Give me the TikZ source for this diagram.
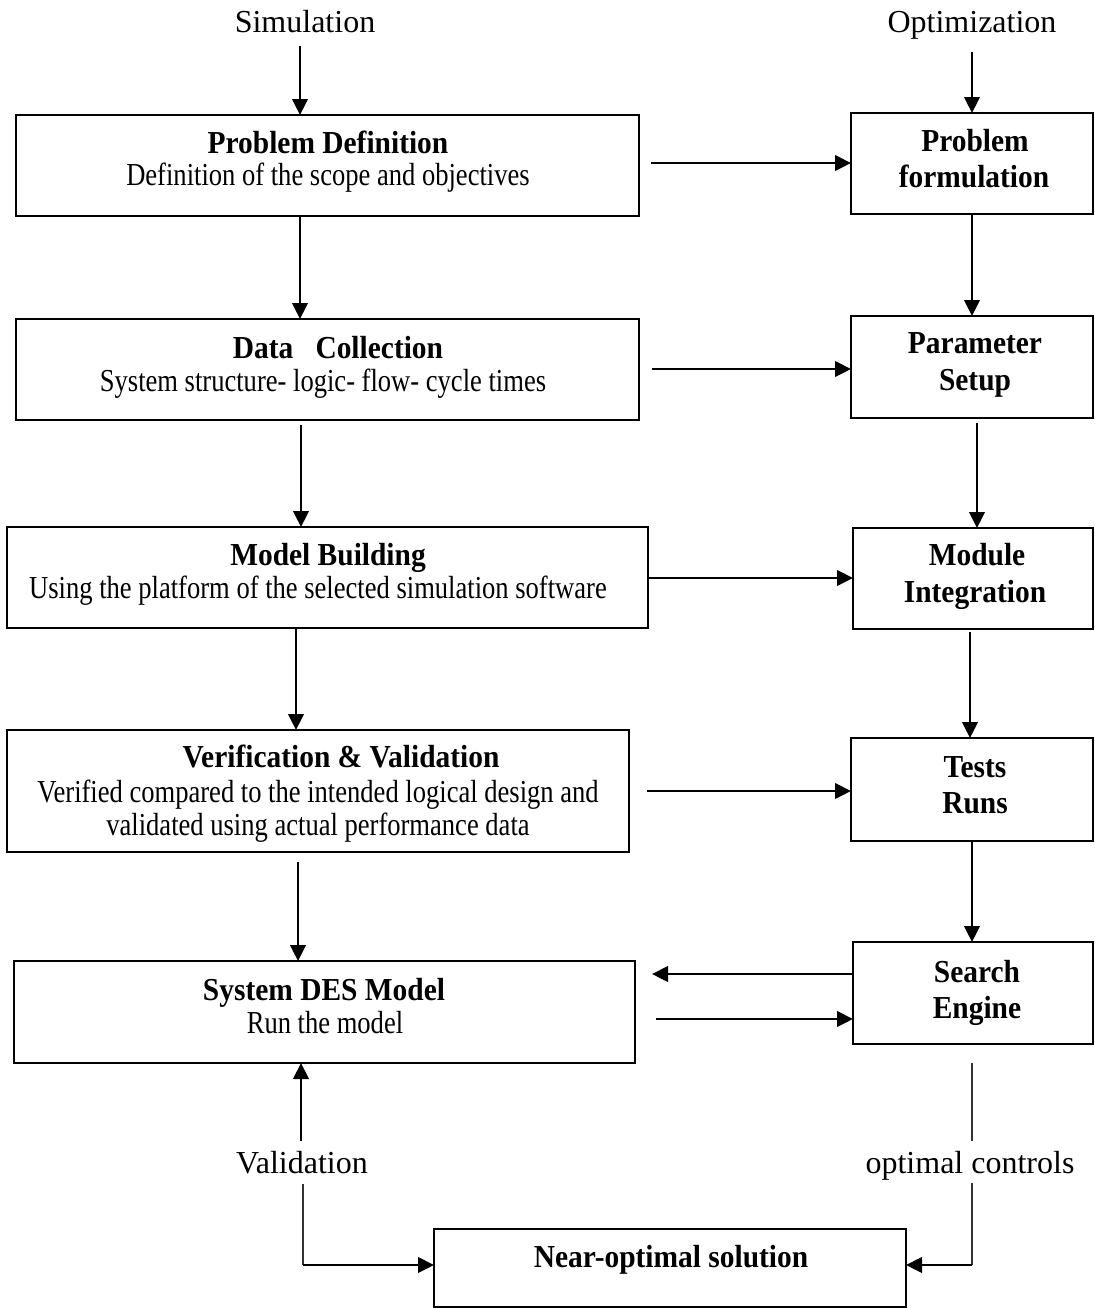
\documentclass[tikz,border=0pt]{standalone}
\usepackage{fontspec}
\setmainfont{Liberation Serif}
\newfontfamily\boxreg{Liberation Serif}[FakeStretch=0.83]
\newfontfamily\boxbold{Liberation Serif}[FakeStretch=0.92]
\usetikzlibrary{arrows.meta,calc}
\begin{document}
\begin{tikzpicture}[x=0.375pt,y=-0.375pt]
\tikzset{
  box/.style={draw, line width=0.75pt, rectangle, inner sep=0pt, outer sep=0pt},
  arr/.style={line width=0.95pt, -{Triangle[length=6pt,width=5.8pt]}},
  thinline/.style={line width=0.5pt, draw=black!80},
  txt/.style={font=\fontsize{12}{14}\selectfont, inner sep=0pt, anchor=base},
  rtxt/.style={font=\boxreg\fontsize{12}{14}\selectfont, inner sep=0pt, anchor=base},
  btxt/.style={font=\boxbold\fontsize{12}{14}\selectfont\bfseries, inner sep=0pt, anchor=base}
}
\useasboundingbox (0,0) rectangle (1094,1308);

% boxes
\node[box, minimum width=623*0.375pt, minimum height=101*0.375pt] (pd) at (327.5,165.5) {};
\node[box, minimum width=623*0.375pt, minimum height=101*0.375pt] (dc) at (327.5,369.5) {};
\node[box, minimum width=641*0.375pt, minimum height=101*0.375pt] (mb) at (327.5,577.5) {};
\node[box, minimum width=622*0.375pt, minimum height=122*0.375pt] (vv) at (318,791) {};
\node[box, minimum width=621*0.375pt, minimum height=102*0.375pt] (sd) at (324.5,1012) {};
\node[box, minimum width=472*0.375pt, minimum height=78*0.375pt] (no) at (670,1268) {};
\node[box, minimum width=242*0.375pt, minimum height=101*0.375pt] (pf) at (972,163.5) {};
\node[box, minimum width=242*0.375pt, minimum height=102*0.375pt] (ps) at (972,367) {};
\node[box, minimum width=240*0.375pt, minimum height=101*0.375pt] (mi) at (973,578.5) {};
\node[box, minimum width=242*0.375pt, minimum height=103*0.375pt] (tr) at (972,789.5) {};
\node[box, minimum width=240*0.375pt, minimum height=102*0.375pt] (se) at (973,993) {};

% texts
\node[txt] (sim) at (305,32) {Simulation};
\node[txt] (opt) at (972,32) {Optimization};
\node[btxt] (pdt) at (328,153) {Problem Definition};
\node[rtxt] (pds) at (328,185) {Definition of the scope and objectives};
\node[btxt] (dct) at (338,358) {Data\ \ \ Collection};
\node[rtxt] (dcs) at (323,391) {System structure- logic- flow- cycle times};
\node[btxt] (mbt) at (328,565) {Model Building};
\node[rtxt] (mbs) at (318,598) {Using the platform of the selected simulation software};
\node[btxt] (vvt) at (341,767) {Verification \& Validation};
\node[rtxt] (vvs1) at (318,802) {Verified compared to the intended logical design and};
\node[rtxt] (vvs2) at (318,835) {validated using actual performance data};
\node[btxt] (sdt) at (324,1000) {System DES Model};
\node[rtxt] (sds) at (325,1033) {Run the model};
\node[btxt] (not) at (671,1267) {Near-optimal solution};
\node[btxt] (pft1) at (975,151) {Problem};
\node[btxt] (pft2) at (974,187) {formulation};
\node[btxt] (pst1) at (975,353) {Parameter};
\node[btxt] (pst2) at (975,390) {Setup};
\node[btxt] (mit1) at (977,565) {Module};
\node[btxt] (mit2) at (975,602) {Integration};
\node[btxt] (trt1) at (975,777) {Tests};
\node[btxt] (trt2) at (975,813) {Runs};
\node[btxt] (set1) at (977,982) {Search};
\node[btxt] (set2) at (977,1018) {Engine};
\node[txt] (val) at (302,1173) {Validation};
\node[txt] (oc) at (970,1173) {optimal controls};

% lanes
\coordinate (x300) at (300,0);
\coordinate (x301) at (301,0);
\coordinate (x296) at (296,0);
\coordinate (x298) at (298,0);
\coordinate (x303) at (303,0);
\coordinate (x972) at (972,0);
\coordinate (x977) at (977,0);
\coordinate (x970) at (970,0);
\coordinate (h1) at (0,163);
\coordinate (h2) at (0,369);
\coordinate (h3) at (0,578);
\coordinate (h4) at (0,791);
\coordinate (h5) at (0,974);
\coordinate (h6) at (0,1019);
\coordinate (h7) at (0,1265);

% top inputs
\draw[arr] ($(sim.south -| x300)+(0,13)$) -- (pd.north -| x300);
\draw[arr] ($(opt.south -| x972)+(0,13)$) -- (pf.north -| x972);

% left column
\draw[arr] (pd.south -| x300) -- (dc.north -| x300);
\draw[arr] ($(dc.south -| x301)+(0,5)$) -- (mb.north -| x301);
\draw[arr] (mb.south -| x296) -- (vv.north -| x296);
\draw[arr] ($(vv.south -| x298)+(0,10)$) -- (sd.north -| x298);

% right column
\draw[arr] (pf.south -| x972) -- (ps.north -| x972);
\draw[arr] ($(ps.south -| x977)+(0,5)$) -- (mi.north -| x977);
\draw[arr] ($(mi.south -| x970)+(0,3)$) -- (tr.north -| x970);
\draw[arr] (tr.south -| x972) -- (se.north -| x972);

% horizontals
\draw[arr] ($(pd.east |- h1)+(12,0)$) -- (pf.west |- h1);
\draw[arr] ($(dc.east |- h2)+(13,0)$) -- (ps.west |- h2);
\draw[arr] (mb.east |- h3) -- (mi.west |- h3);
\draw[arr] ($(vv.east |- h4)+(18,0)$) -- (tr.west |- h4);
\draw[arr] (se.west |- h5) -- ($(sd.east |- h5)+(17,0)$);
\draw[arr] ($(sd.east |- h6)+(21,0)$) -- (se.west |- h6);

% bottom
\draw[arr] ($(val.north -| x301)+(0,-9)$) -- (sd.south -| x301);
\draw[thinline] ($(val.south -| x303)+(0,10)$) -- (x303 |- h7);
\draw[arr] (x303 |- h7) -- (no.west |- h7);
\draw[thinline] ($(se.south -| x972)+(0,19)$) -- ($(oc.north -| x972)+(0,-9)$);
\draw[thinline] ($(oc.south -| x972)+(0,3)$) -- (x972 |- h7);
\draw[arr] (x972 |- h7) -- (no.east |- h7);
\end{tikzpicture}
\end{document}
